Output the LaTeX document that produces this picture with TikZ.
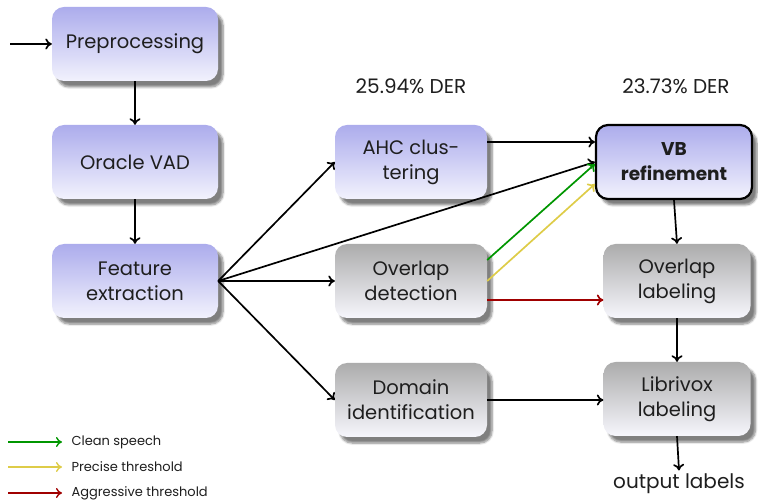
\documentclass[tikz,border=0pt]{standalone}
\usepackage{fontspec}
\setmainfont{Poppins}
\usetikzlibrary{arrows.meta,shadows.blur}
\definecolor{bluetop}{RGB}{172,172,236}
\definecolor{bluebot}{RGB}{242,242,253}
\definecolor{graytop}{RGB}{172,172,172}
\definecolor{graybot}{RGB}{246,246,252}
\definecolor{cgreen}{RGB}{0,150,0}
\definecolor{cyellow}{RGB}{222,204,72}
\definecolor{cred}{RGB}{160,0,0}
\definecolor{txt}{RGB}{30,30,30}
\begin{document}
\begin{tikzpicture}[x=1pt,y=-1pt,
  box/.style={rounded corners=12pt, minimum width=166pt, minimum height=74pt,
    align=center, text=txt, font=\fontsize{19.5}{25}\selectfont, inner sep=2pt,
    blur shadow={shadow xshift=5pt, shadow yshift=-6pt, shadow blur steps=6, shadow opacity=50}},
  bluebox/.style={box, top color=bluetop, bottom color=bluebot},
  graybox/.style={box, top color=graytop, bottom color=graybot},
  arr/.style={-{To[length=6.5pt,width=11pt]}, line width=1.7pt},
  legarr/.style={-{To[length=6pt,width=10pt]}, line width=1.4pt},
  lbl/.style={text=txt, font=\fontsize{20}{24}\selectfont},
  legtxt/.style={anchor=west, text=txt, font=\fontsize{13}{16}\selectfont}]
\useasboundingbox (0,0) rectangle (758,502);

% main column
\node[bluebox] (pre) at (135,44) {Preprocessing};
\node[bluebox] (vad) at (135,162) {Oracle VAD};
\node[bluebox] (feat) at (135,281) {Feature\\extraction};

% middle column
\node[bluebox, minimum width=152pt] (ahc) at (411,162) {AHC clus-\\tering};
\node[graybox, minimum width=152pt] (ovd) at (411,281) {Overlap\\detection};
\node[graybox, minimum width=152pt] (dom) at (411,400) {Domain\\identification};

% right column
\node[bluebox, minimum width=156pt, draw=black, line width=2.2pt, font=\fontsize{18.5}{25}\selectfont\bfseries] (vb) at (674,162) {VB\\refinement};
\node[graybox, minimum width=147pt] (ovl) at (677,281) {Overlap\\labeling};
\node[graybox, minimum width=147pt] (lib) at (677,399) {Librivox\\labeling};

% labels
\node[lbl] (der1) at (411,86) {25.94\% DER};
\node[lbl] (der2) at (676,86) {23.73\% DER};
\node[lbl] (out) at (679,484) {output labels};

% connectors
\coordinate (in) at (10,44);
\draw[arr] (in) -- (pre.west);
\draw[arr] (pre) -- (vad);
\draw[arr] (vad) -- (feat);
\draw[arr] (feat.east) -- (ahc.west);
\draw[arr] (feat.east) -- (vb.west);
\draw[arr] (feat.east) -- (ovd.west);
\draw[arr] (feat.east) -- (dom.west);
\draw[arr] ([yshift=20pt]ahc.east) -- ([yshift=20pt]ahc.east -| vb.west);
\draw[arr, cgreen] ([yshift=21pt]ovd.east) -- ([yshift=-2pt]vb.west);
\draw[arr, cyellow] (ovd.east) -- ([yshift=-22pt]vb.west);
\draw[arr, cred] ([yshift=-19pt]ovd.east) -- ([yshift=-19pt]ovd.east -| ovl.west);
\draw[arr] (vb.south) -- (ovl.north);
\draw[arr] (ovl.south) -- (lib.north);
\draw[arr] (dom.east) -- (dom.east -| lib.west);
\draw[arr] (lib.south) -- (out.north);

% legend
\coordinate (g1) at (8,442); \coordinate (g2) at (62,442);
\coordinate (y1) at (8,467); \coordinate (y2) at (62,467);
\coordinate (r1) at (8,493); \coordinate (r2) at (62,493);
\draw[legarr, cgreen] (g1) -- (g2);
\draw[legarr, cyellow] (y1) -- (y2);
\draw[legarr, cred] (r1) -- (r2);
\node[legtxt] (lg) at (68,442) {Clean speech};
\node[legtxt] (ly) at (68,467) {Precise threshold};
\node[legtxt] (lr) at (68,493) {Aggressive threshold};
\end{tikzpicture}
\end{document}
